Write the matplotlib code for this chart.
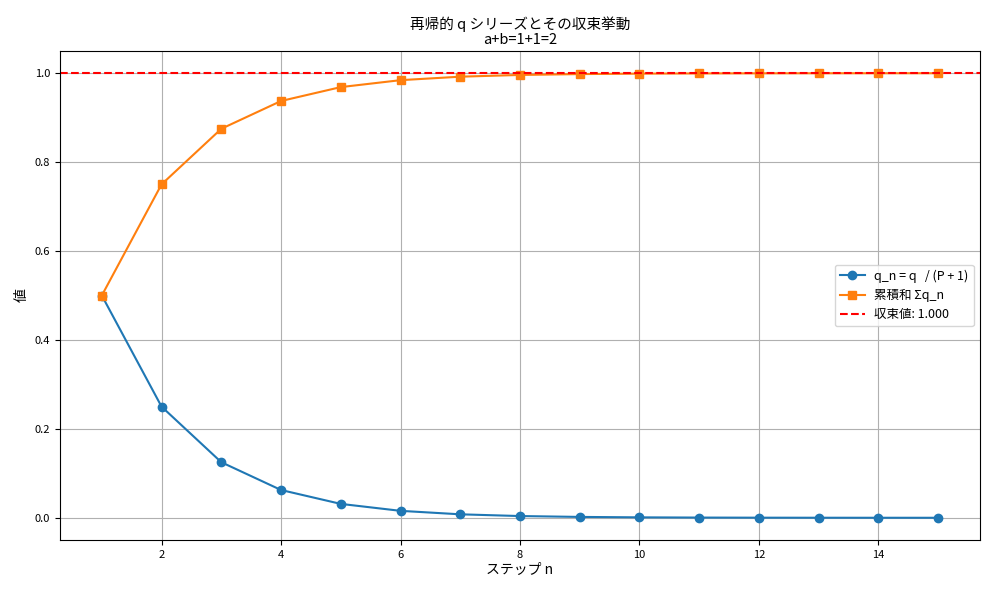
import matplotlib
matplotlib.use('Agg')
import matplotlib.pyplot as plt

plt.rcParams['font.family'] = ['Noto Sans CJK JP', 'DejaVu Sans']

# データ
steps = [1, 2, 3, 4, 5, 6, 7, 8, 9, 10, 11, 12, 13, 14, 15]
q_values = [0.5, 0.25, 0.125, 0.0625, 0.03125, 0.015625, 0.0078125,
            0.00390625, 0.001953125, 0.0009765625, 0.00048828125,
            0.000244140625, 0.0001220703125, 0.00006103515625,
            0.000030517578125]
cum_values = [0.5, 0.75, 0.875, 0.9375, 0.96875, 0.984375, 0.9921875,
              0.99609375, 0.998046875, 0.9990234375, 0.99951171875,
              0.999755859375, 0.9998779296875, 0.99993896484375,
              0.999969482421875]
limit_value = 1.0

fig, ax = plt.subplots(figsize=(9.89, 5.9), dpi=100)

ax.plot(steps, q_values, marker='o', color='#1f77b4', label='q_n = q   / (P + 1)')
ax.plot(steps, cum_values, marker='s', color='#ff7f0e', label='累積和 Σq_n')
ax.axhline(limit_value, color='red', linestyle='--', label=f'収束値: {limit_value:.3f}')

ax.set_title('再帰的 q シリーズとその収束挙動\na+b=1+1=2', fontsize=10.5, linespacing=1.1, pad=5)
ax.set_xlabel('ステップ n', fontsize=10, labelpad=2)
ax.set_ylabel('値', fontsize=10)
ax.tick_params(axis='both', labelsize=8)
ax.grid(True)
ax.legend(loc='center right', fontsize=9)

fig.subplots_adjust(left=60/989, right=980/989, top=1-51/590, bottom=1-540/590)
plt.savefig('out.png', dpi=100)
